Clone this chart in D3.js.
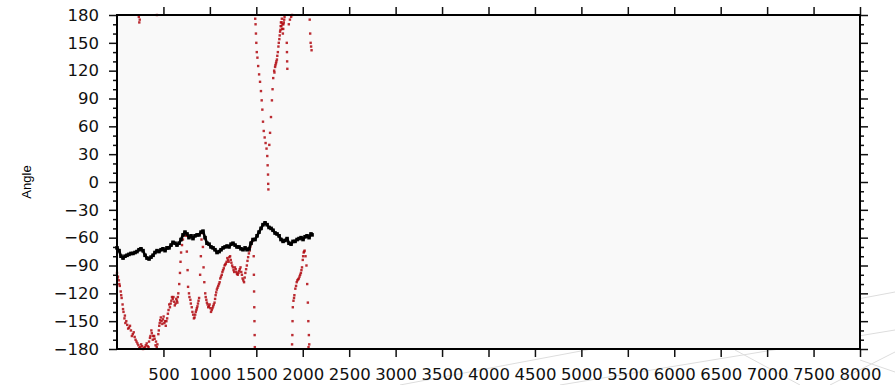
<!DOCTYPE html>
<html>
<head>
<meta charset="utf-8">
<script src="https://cdn.jsdelivr.net/npm/d3@7"></script>
<style>
  body { margin: 0; background: #fff; }
  svg { display: block; }
  .tick text { font-family: "DejaVu Sans", Verdana, sans-serif; font-size: 16.5px; fill: #111; }
</style>
</head>
<body>
<script>
// x ticks (steps) and y ticks (angle)
const xTicks = [500, 1000, 1500, 2000, 2500, 3000, 3500, 4000, 4500, 5000, 5500, 6000, 6500, 7000, 7500, 8000];
const yTicks = [-180, -150, -120, -90, -60, -30, 0, 30, 60, 90, 120, 150, 180];
const yMinor = [-170, -160, -140, -130, -110, -100, -80, -70, -50, -40, -20, -10,
                10, 20, 40, 50, 70, 80, 100, 110, 130, 140, 160, 170];

// black series [step, angle]
const blackSeries = [
  [0,-71],[22,-74],[43,-80],[65,-82],[86,-80],[108,-79],[129,-78],[151,-77],[172,-77],[194,-76],
  [215,-75],[237,-73],[258,-72],[280,-74],[302,-79],[323,-82],[345,-83],[366,-81],[388,-79],[409,-76],
  [431,-74],[452,-75],[474,-73],[495,-72],[517,-74],[538,-71],[560,-71],[582,-68],[603,-65],[625,-66],
  [646,-68],[668,-66],[689,-62],[711,-57],[732,-54],[754,-56],[775,-60],[797,-58],[818,-61],[840,-58],
  [862,-57],[883,-57],[905,-54],[926,-53],[948,-60],[969,-66],[991,-67],[1012,-70],[1034,-71],[1055,-73],
  [1077,-76],[1099,-75],[1120,-73],[1142,-71],[1163,-70],[1185,-69],[1206,-70],[1228,-67],[1249,-66],[1271,-68],
  [1292,-70],[1314,-70],[1335,-72],[1357,-73],[1379,-71],[1400,-73],[1422,-72],[1443,-66],[1465,-62],[1486,-62],
  [1508,-58],[1529,-54],[1551,-50],[1572,-46],[1594,-44],[1616,-46],[1637,-49],[1659,-50],[1680,-52],[1702,-55],
  [1723,-56],[1745,-58],[1766,-62],[1788,-64],[1809,-63],[1831,-61],[1852,-66],[1874,-67],[1895,-64],[1917,-64],
  [1939,-62],[1960,-61],[1982,-60],[2003,-62],[2025,-59],[2046,-58],[2068,-60],[2089,-56],[2100,-57]
];

// red series [step, angle]
const redSeries = [
  [0,-98],[10,-102],[20,-106],[30,-112],[40,-118],[50,-125],[60,-132],[70,-140],[80,-147],[90,-152],
  [110,-154],[130,-157],[150,-160],[170,-164],[190,-167],[210,-172],[230,-176],[250,-178],[270,-177],[290,-179],
  [310,-176],[330,-177],[345,-172],[360,-166],[375,-163],[390,-166],[405,-169],[420,-172],[435,-175],[445,-164],
  [455,-155],[465,-149],[480,-150],[495,-148],[510,-152],[525,-155],[540,-147],[555,-138],[570,-135],[585,-128],
  [600,-126],[615,-129],[630,-131],[645,-128],[655,-124],
  [670,-110],[678,-98],[684,-86],[690,-76],[700,-68],[710,-62],[722,-57],[732,-54],[742,-58],
  [752,-75],[760,-95],[765,-113],[775,-120],[790,-127],[805,-135],[820,-143],[835,-146],[848,-140],[860,-136],
  [872,-131],[884,-125],
  [895,-100],[903,-80],[910,-62],[918,-55],[925,-70],[932,-92],[940,-108],[950,-120],[962,-127],[975,-132],
  [990,-134],[1005,-136],[1020,-138],[1035,-134],[1050,-130],[1062,-122],[1075,-116],[1090,-112],[1105,-108],[1120,-102],
  [1135,-97],[1150,-93],[1165,-89],[1180,-86],[1195,-84],[1210,-81],[1225,-84],[1240,-90],[1255,-95],[1270,-92],
  [1285,-97],[1300,-100],[1315,-96],[1330,-92],[1345,-100],[1360,-106],[1375,-103],[1390,-94],[1405,-85],[1420,-77],
  [1435,-70],[1448,-65],[1460,-62],
  [1472,-80],[1474,-100],[1476,-118],[1478,-135],[1480,-150],[1482,-165],[1484,-178],
  [1488,176],[1492,170],[1496,160],[1500,150],[1505,140],[1512,134],[1520,125],[1530,116],[1540,108],[1550,98],
  [1558,88],[1565,78],[1572,65],[1580,55],[1590,48],[1600,42],[1610,36],[1618,28],[1622,18],[1626,8],
  [1628,-2],[1630,-8],
  [1640,40],[1648,53],[1658,70],[1668,88],[1675,100],[1682,112],[1692,120],[1702,124],[1712,128],[1722,132],
  [1732,140],[1742,150],[1752,158],[1760,164],[1765,172],[1770,168],[1775,176],[1778,165],[1786,160],[1790,165],
  [1792,170],[1800,175],
  [1828,150],[1830,140],[1832,130],[1834,122],
  [1850,170],[1862,175],[1875,178],[1885,180],
  [1885,-175],[1888,-165],[1890,-150],[1893,-135],[1900,-128],[1910,-122],[1920,-115],[1935,-108],[1950,-105],[1965,-102],
  [1980,-98],[1992,-92],[2000,-84],[2010,-76],[2020,-74],[2030,-80],[2040,-90],[2048,-110],[2055,-130],[2060,-150],
  [2066,-165],[2070,-175],[2062,-178],
  [2075,175],[2080,160],[2085,150],[2090,146],[2095,142],
  [235,178],[240,172],[245,175],[430,180],
  // denser parts of the red band
  [5,-104],[25,-110],[45,-122],[65,-137],[85,-144],[100,-150],[120,-158],[140,-155],[160,-166],[180,-162],
  [200,-170],[220,-174],[240,-179],[260,-175],[280,-180],[300,-178],[320,-174],[340,-178],[355,-168],[370,-160],
  [385,-170],[400,-166],[415,-176],[428,-178],[450,-160],[460,-152],[472,-146],[488,-153],[502,-145],[518,-150],
  [532,-150],[548,-142],[562,-132],[578,-131],[592,-124],[608,-124],[622,-133],[638,-126],[650,-130],[660,-120],
  [780,-124],[795,-131],[812,-140],[828,-147],[842,-143],[855,-138],[866,-134],[878,-128],
  [955,-124],[968,-130],[982,-135],[997,-132],[1012,-140],[1028,-136],[1042,-132],[1056,-126],[1068,-119],[1082,-114],
  [1098,-110],[1112,-104],[1128,-100],[1142,-95],[1158,-90],[1172,-88],[1188,-82],[1202,-86],[1218,-80],[1232,-87],
  [1248,-92],[1262,-97],[1278,-94],[1292,-99],[1308,-98],[1322,-94],[1338,-97],[1352,-104],[1368,-108],[1382,-98],
  [1398,-90],[1412,-81],[1428,-74],[1442,-67],[1455,-64],
  [1695,118],[1706,126],[1716,130],[1726,136],[1738,146],[1748,154],[1756,162],[1762,168],[1772,172],[1782,170],
  [1796,172],[1804,178],[1906,-125],[1928,-112],[1942,-106],[1958,-104],[1972,-100],[1986,-95],[2004,-80],[2015,-75]
];

const W = 895, H = 385;
const margin = {top: 15, right: 35, bottom: 36, left: 117};
const iw = W - margin.left - margin.right;
const ih = H - margin.top - margin.bottom;

const svg = d3.select("body").append("svg")
    .attr("width", W)
    .attr("height", H);

// faint background lines in the lower right corner
const deco = [[400,385,895,292],[560,385,895,330],[735,350,800,385],[830,385,895,352],[860,360,895,372]];
svg.selectAll("line.deco")
    .data(deco)
    .enter().append("line")
    .attr("x1", d => d[0]).attr("y1", d => d[1])
    .attr("x2", d => d[2]).attr("y2", d => d[3])
    .attr("stroke", "#ddd")
    .attr("stroke-width", 1);

const g = svg.append("g")
    .attr("transform", `translate(${margin.left},${margin.top})`);

const x = d3.scaleLinear().domain([0, 8000]).range([0, iw]);
const y = d3.scaleLinear().domain([-180, 180]).range([ih, 0]);

// plot background
g.append("rect")
    .attr("width", iw)
    .attr("height", ih)
    .attr("fill", "#f9f9f9");

// red points
g.selectAll("rect.red")
    .data(redSeries)
    .enter().append("rect")
    .attr("x", d => x(d[0]) - 1.2)
    .attr("y", d => y(d[1]) - 1.2)
    .attr("width", 2.4)
    .attr("height", 2.4)
    .attr("fill", "#b0080f")
    .attr("opacity", 0.85);

// black line
g.append("path")
    .datum(blackSeries)
    .attr("fill", "none")
    .attr("stroke", "#000")
    .attr("stroke-width", 2.6)
    .attr("stroke-linejoin", "round")
    .attr("d", d3.line().x(d => x(d[0])).y(d => y(d[1])));

g.selectAll("rect.black")
    .data(blackSeries)
    .enter().append("rect")
    .attr("x", d => x(d[0]) - 1.8)
    .attr("y", d => y(d[1]) - 1.8)
    .attr("width", 3.6)
    .attr("height", 3.6)
    .attr("fill", "#000");

// axes
const fmt = d => d < 0 ? "\u2212" + Math.abs(d) : String(d);

g.append("g")
    .attr("transform", `translate(0,${ih})`)
    .call(d3.axisBottom(x).tickValues(xTicks).tickSize(8).tickPadding(11).tickFormat(fmt));
g.append("g")
    .call(d3.axisTop(x).tickValues(xTicks).tickSize(8).tickFormat(""));

g.append("g")
    .call(d3.axisLeft(y).tickValues(yTicks).tickSize(8).tickPadding(10).tickFormat(fmt));
g.append("g")
    .call(d3.axisLeft(y).tickValues(yMinor).tickSize(4).tickFormat(""));
g.append("g")
    .attr("transform", `translate(${iw},0)`)
    .call(d3.axisRight(y).tickValues(yTicks).tickSize(8).tickFormat(""));
g.append("g")
    .attr("transform", `translate(${iw},0)`)
    .call(d3.axisRight(y).tickValues(yMinor).tickSize(4).tickFormat(""));

g.selectAll(".domain").remove();
g.selectAll(".tick line").attr("stroke", "#111").attr("stroke-width", 1.5);

// frame
g.append("rect")
    .attr("width", iw)
    .attr("height", ih)
    .attr("fill", "none")
    .attr("stroke", "#000")
    .attr("stroke-width", 2);

// y label
svg.append("text")
    .attr("transform", `translate(31,${margin.top + ih / 2}) rotate(-90)`)
    .attr("text-anchor", "middle")
    .style("font-family", "Liberation Sans, Arial, sans-serif")
    .style("font-size", "13px")
    .text("Angle");
</script>
</body>
</html>
